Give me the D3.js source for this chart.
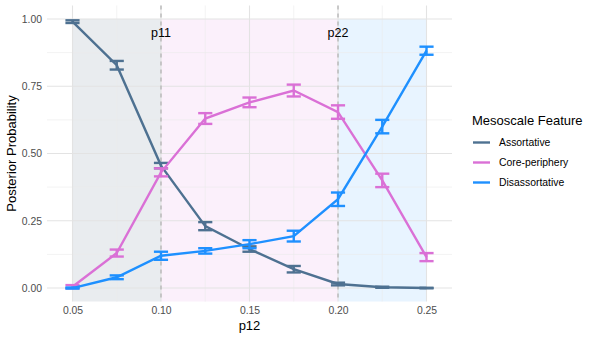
<!DOCTYPE html>
<html>
<head>
<meta charset="utf-8">
<script src="https://cdn.jsdelivr.net/npm/d3@7"></script>
<style>
  body { margin: 0; background: #fff; }
  svg { font-family: "Liberation Sans", Arial, sans-serif; }
</style>
</head>
<body>
<svg width="595" height="340"></svg>
<script>
// p12 values along the x axis
var p12 = [0.05, 0.075, 0.10, 0.125, 0.15, 0.175, 0.20, 0.225, 0.25];

var features = ["Assortative", "Core-periphery", "Disassortative"];
var colors = ["#4e7191", "#da70d6", "#1e90ff"];

// posterior means
var assortative = [0.99, 0.828, 0.455, 0.23, 0.145, 0.07, 0.015, 0.003, 0.0];
var corePeriphery = [0.005, 0.13, 0.43, 0.63, 0.69, 0.734, 0.654, 0.40, 0.115];
var disassortative = [0.0, 0.04, 0.12, 0.138, 0.163, 0.193, 0.33, 0.60, 0.882];

// half widths of error bars
var assortativeErr = [0.005, 0.016, 0.01, 0.015, 0.01, 0.012, 0.005, 0.002, 0.001];
var corePeripheryErr = [0.006, 0.013, 0.015, 0.02, 0.018, 0.022, 0.025, 0.025, 0.015];
var disassortativeErr = [0.002, 0.007, 0.015, 0.01, 0.015, 0.02, 0.025, 0.025, 0.015];

// shaded regions and reference lines
var regions = [[0.05, 0.10], [0.10, 0.20], [0.20, 0.25]];
var regionColors = ["#e9ecef", "#fbf0fb", "#e8f4ff"];
var refLines = [0.10, 0.20];
var refLabels = ["p11", "p22"];

var yTicks = [0, 0.25, 0.5, 0.75, 1];
var xTicks = [0.05, 0.10, 0.15, 0.20, 0.25];

var series = [assortative, corePeriphery, disassortative];
var errs = [assortativeErr, corePeripheryErr, disassortativeErr];

var svg = d3.select("svg");
var pLeft = 47, pRight = 452, pTop = 5.5, pBottom = 301.5;

var x = d3.scaleLinear().domain([0.0356, 0.2644]).range([pLeft, pRight]);
var y = d3.scaleLinear().domain([-0.05, 1.05]).range([pBottom, pTop]);

// regions
svg.append("g").selectAll("rect")
    .data(regions)
    .enter().append("rect")
    .attr("x", function (d) { return x(d[0]); })
    .attr("width", function (d) { return x(d[1]) - x(d[0]); })
    .attr("y", y(1))
    .attr("height", pBottom - y(1))
    .attr("fill", function (d, i) { return regionColors[i]; });

// grid
var grid = svg.append("g");
var minorX = [0.075, 0.125, 0.175, 0.225];
var minorY = [0.125, 0.375, 0.625, 0.875];
grid.selectAll(".mx").data(minorX).enter().append("line")
    .attr("x1", x).attr("x2", x).attr("y1", pTop).attr("y2", pBottom)
    .attr("stroke", "#ebebeb").attr("stroke-width", 0.6);
grid.selectAll(".my").data(minorY).enter().append("line")
    .attr("x1", pLeft).attr("x2", pRight).attr("y1", y).attr("y2", y)
    .attr("stroke", "#ebebeb").attr("stroke-width", 0.6);
grid.selectAll(".gx").data(xTicks).enter().append("line")
    .attr("x1", x).attr("x2", x).attr("y1", pTop).attr("y2", pBottom)
    .attr("stroke", "#e3e3e3").attr("stroke-width", 1.1);
grid.selectAll(".gy").data(yTicks).enter().append("line")
    .attr("x1", pLeft).attr("x2", pRight).attr("y1", y).attr("y2", y)
    .attr("stroke", "#e3e3e3").attr("stroke-width", 1.1);

// reference lines
svg.append("g").selectAll("line")
    .data(refLines)
    .enter().append("line")
    .attr("x1", x).attr("x2", x).attr("y1", pTop).attr("y2", pBottom)
    .attr("stroke", "#aaaaaa").attr("stroke-width", 1.1)
    .attr("stroke-dasharray", "4,4");

svg.append("g").selectAll("text")
    .data(refLabels)
    .enter().append("text")
    .attr("x", function (d, i) { return x(refLines[i]); })
    .attr("y", y(0.95))
    .attr("dy", "0.35em")
    .attr("text-anchor", "middle")
    .style("font-size", "12.5px")
    .style("fill", "#000")
    .text(function (d) { return d; });

// lines and error bars
var line = d3.line()
    .x(function (d, i) { return x(p12[i]); })
    .y(function (d) { return y(d); });

series.forEach(function (s, k) {
    var g = svg.append("g")
        .attr("stroke", colors[k])
        .attr("stroke-width", 2.4)
        .attr("fill", "none");
    g.append("path").attr("d", line(s));
    var eb = g.selectAll("g.eb").data(s).enter().append("g");
    eb.append("line")
        .attr("x1", function (d, i) { return x(p12[i]); })
        .attr("x2", function (d, i) { return x(p12[i]); })
        .attr("y1", function (d, i) { return y(d - errs[k][i]); })
        .attr("y2", function (d, i) { return y(d + errs[k][i]); });
    [-1, 1].forEach(function (sgn) {
        eb.append("line")
            .attr("x1", function (d, i) { return x(p12[i] - 0.004); })
            .attr("x2", function (d, i) { return x(p12[i] + 0.004); })
            .attr("y1", function (d, i) { return y(d + sgn * errs[k][i]); })
            .attr("y2", function (d, i) { return y(d + sgn * errs[k][i]); });
    });
});

// axes
var xAxis = svg.append("g")
    .attr("transform", "translate(0," + pBottom + ")")
    .call(d3.axisBottom(x).tickValues(xTicks).tickFormat(d3.format(".2f")).tickSize(0).tickPadding(5));
var yAxis = svg.append("g")
    .attr("transform", "translate(" + pLeft + ",0)")
    .call(d3.axisLeft(y).tickValues(yTicks).tickFormat(d3.format(".2f")).tickSize(0).tickPadding(5));
[xAxis, yAxis].forEach(function (a) {
    a.select(".domain").remove();
    a.selectAll("text")
        .style("font-size", "10.4px")
        .style("fill", "#4d4d4d")
        .style("font-family", "'Liberation Sans', Arial, sans-serif");
});

svg.append("text")
    .attr("x", (pLeft + pRight) / 2)
    .attr("y", 330)
    .attr("text-anchor", "middle")
    .style("font-size", "13px")
    .text("p12");

svg.append("text")
    .attr("transform", "translate(16," + (pTop + pBottom) / 2 + ") rotate(-90)")
    .attr("text-anchor", "middle")
    .style("font-size", "13px")
    .text("Posterior Probability");

// legend
var legend = svg.append("g");
legend.append("text")
    .attr("x", 472)
    .attr("y", 125)
    .style("font-size", "13px")
    .text("Mesoscale Feature");
var item = legend.selectAll("g.item")
    .data(features)
    .enter().append("g")
    .attr("transform", function (d, i) { return "translate(0," + (142.5 + i * 20) + ")"; });
item.append("line")
    .attr("x1", 473).attr("x2", 490)
    .attr("stroke", function (d, i) { return colors[i]; })
    .attr("stroke-width", 2.4);
item.append("text")
    .attr("x", 499)
    .attr("dy", "0.35em")
    .style("font-size", "10.4px")
    .style("fill", "#000")
    .text(function (d) { return d; });
</script>
</body>
</html>
